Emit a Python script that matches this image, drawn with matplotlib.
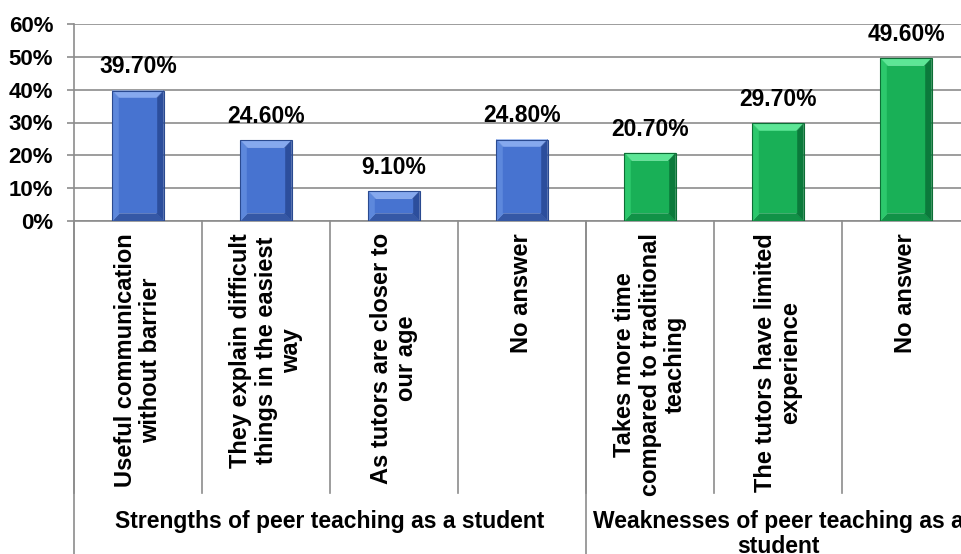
import matplotlib.pyplot as plt
from matplotlib.transforms import blended_transform_factory
from matplotlib.lines import Line2D
from matplotlib.patches import Polygon

plt.rcParams['font.family'] = ['Liberation Sans', 'DejaVu Sans']
plt.rcParams['font.weight'] = 'bold'

categories = [
    "Useful communication\nwithout barrier",
    "They explain difficult\nthings in the easiest\nway",
    "As tutors are closer to\nour age",
    "No answer",
    "Takes more time\ncompared to traditional\nteaching",
    "The tutors have limited\nexperience",
    "No answer",
]
values = [39.7, 24.6, 9.1, 24.8, 20.7, 29.7, 49.6]
groups = ["Strengths of peer teaching as a student",
          "Weaknesses of peer teaching as a\nstudent"]
group_sizes = [4, 3]
yticks = [0, 10, 20, 30, 40, 50, 60]

# bevel face colours per group
group_colors = [
    dict(top="#86A9EE", left="#5D88DC", right="#2C4E9C", bottom="#3558A6",
         center="#4773D0", edge="#2A4A90"),
    dict(top="#5DE696", left="#2CC86C", right="#0B7A3B", bottom="#119247",
         center="#19B057", edge="#0C6E35"),
]

fig = plt.figure(figsize=(9.61, 5.54), dpi=100)
ax = fig.add_axes([74 / 961, 1 - 221 / 554, 896 / 961, 197 / 554])

x = list(range(len(values)))
colors = []
for g, n in enumerate(group_sizes):
    colors += [group_colors[g]] * n

bw = 0.4
bev_x = 0.055
bev_y = 2.3


def bevel_bar(ax, xc, v, c):
    x0, x1 = xc - bw / 2, xc + bw / 2
    i0, i1 = x0 + bev_x, x1 - bev_x
    j0, j1 = bev_y, v - bev_y
    faces = [
        ([(x0, v), (x1, v), (i1, j1), (i0, j1)], c["top"]),
        ([(x0, 0), (x1, 0), (i1, j0), (i0, j0)], c["bottom"]),
        ([(x0, 0), (x0, v), (i0, j1), (i0, j0)], c["left"]),
        ([(x1, 0), (x1, v), (i1, j1), (i1, j0)], c["right"]),
        ([(i0, j0), (i1, j0), (i1, j1), (i0, j1)], c["center"]),
    ]
    for pts, col in faces:
        ax.add_patch(Polygon(pts, closed=True, facecolor=col, edgecolor=col,
                             linewidth=0.3, zorder=3))
    ax.add_patch(Polygon([(x0, 0), (x0, v), (x1, v), (x1, 0)], closed=True,
                         fill=False, edgecolor=c["edge"], linewidth=0.8, zorder=4))


for xi, v, c in zip(x, values, colors):
    bevel_bar(ax, xi, v, c)
    ax.annotate(f"{v:.2f}%", (xi, v), xytext=(0, 9), textcoords="offset points",
                ha="center", va="bottom", fontsize=16.5, fontweight="bold")

ax.set_xlim(-0.5, len(values) - 0.5)
ax.set_ylim(0, 60)
ax.set_yticks(yticks)
ax.set_yticklabels([f"{t}%" for t in yticks], fontsize=16, fontweight="bold")
ax.set_xticks([])
ax.yaxis.grid(True, color="#8c8c8c", linewidth=1.2, zorder=0)
ax.set_axisbelow(True)
ax.tick_params(axis="y", length=5, color="#8c8c8c", width=1.2, pad=10)
for s in ["top", "right", "bottom", "left"]:
    ax.spines[s].set_visible(False)

trans = blended_transform_factory(ax.transData, ax.transAxes)
line_kw = dict(color="#8c8c8c", linewidth=1.2, transform=trans, clip_on=False)

# category separators
for b in range(len(values) + 1):
    ax.add_line(Line2D([b - 0.5, b - 0.5], [0, -1.381], **line_kw))
# group separators and left axis
edges = [0]
for n in group_sizes:
    edges.append(edges[-1] + n)
for e in edges:
    ax.add_line(Line2D([e - 0.5, e - 0.5], [0, -1.7], **line_kw))
ax.add_line(Line2D([-0.5, -0.5], [0, 1], **line_kw))
ax.add_line(Line2D([-0.5, len(values) - 0.5], [0, 0], **line_kw))

for xi, lab in zip(x, categories):
    ax.text(xi, -0.061, lab, transform=trans, rotation=90, ha="center", va="top",
            multialignment="center", fontsize=17, fontweight="bold",
            linespacing=1.12)

for g, lab in enumerate(groups):
    mid = (edges[g] + edges[g + 1] - 1) / 2
    ax.text(mid, -1.465, lab, transform=trans, ha="center", va="top",
            fontsize=16.5, fontweight="bold", linespacing=1.12)

fig.savefig("out.png", dpi=100)
